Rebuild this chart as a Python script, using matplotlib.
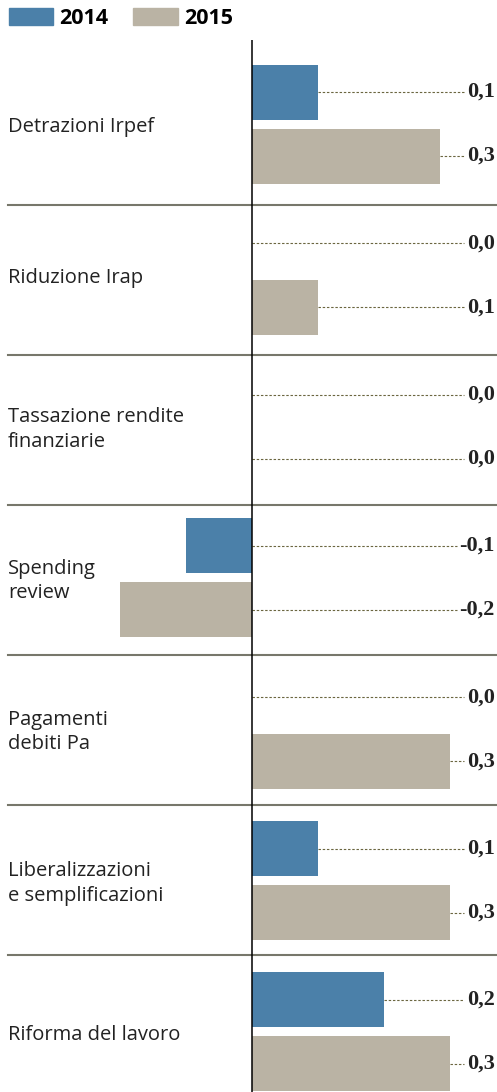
import numpy as np
import matplotlib
matplotlib.use("Agg")
from matplotlib import pyplot as plt
from matplotlib.patches import Patch

categories = ["Detrazioni Irpef", "Riduzione Irap", "Tassazione rendite\nfinanziarie",
              "Spending\nreview", "Pagamenti\ndebiti Pa",
              "Liberalizzazioni\ne semplificazioni", "Riforma del lavoro"]
v2014 = [0.10, 0.00, 0.00, -0.10, 0.00, 0.10, 0.20]
v2015 = [0.285, 0.10, 0.00, -0.20, 0.30, 0.30, 0.30]
years = ["2014", "2015"]
colors = ["#4b80a9", "#bab3a4"]

W, H = 497, 1092
fig = plt.figure(figsize=(W / 100, H / 100), dpi=100)
ax = fig.add_axes([0, 0, 1, 1])
ax.axis("off")

# x: zero at 252px, 660 px per unit ; y: group pitch 151.3px, first centre at 124px
pitch, y0 = 151.3, 124
ax.set_xlim(-252 / 660, (W - 252) / 660)
ax.set_ylim((H - y0) / pitch, -y0 / pitch)

y = np.arange(len(categories))
off = 32 / pitch
bh = 55 / pitch
ax.barh(y - off, v2014, height=bh, color=colors[0], zorder=2)
ax.barh(y + off, v2015, height=bh, color=colors[1], zorder=2)

# zero line and separators
ax.vlines(0, (40 - y0) / pitch, (H - y0) / pitch, color="black", lw=1.1, zorder=3)
for k in range(len(categories) - 1):
    ax.axhline((205 + 150 * k - y0) / pitch, xmin=8 / W, xmax=1,
               color="#77776b", lw=1.5, zorder=1)

# category labels
for i, c in enumerate(categories):
    ax.text(8 / W, i + 3 / pitch, c, transform=ax.get_yaxis_transform(),
            ha="left", va="center", fontsize=14.5, family="Open Sans",
            color="#222222", linespacing=1.3)

# value labels with dotted leaders
fig.canvas.draw()
r = fig.canvas.get_renderer()
inv = ax.transData.inverted()
for vals, sh in ((v2014, -off), (v2015, off)):
    for i, v in enumerate(vals):
        lab = f"{v:.1f}".replace(".", ",")
        t = ax.text(495 / W, i + sh, lab, transform=ax.get_yaxis_transform(),
                    ha="right", va="center", fontsize=16, family="Liberation Serif",
                    fontweight="bold", color="#222222")
        bb = t.get_window_extent(renderer=r)
        xend = inv.transform((bb.x0 - 3, 0))[0]
        ax.plot([max(v, 0), xend], [i + sh, i + sh], color="#6b6640", lw=0.8,
                linestyle=(0, (2.2, 1.6)), zorder=1)

handles = [Patch(color=colors[0]), Patch(color=colors[1])]
leg = fig.legend(handles, years, loc="upper left", bbox_to_anchor=(9 / W, 1 - 8 / H),
                 ncol=2, frameon=False, handlelength=2.05, handleheight=0.84,
                 handletextpad=0.3, columnspacing=1.15, borderaxespad=0, borderpad=0,
                 prop={"family": "Open Sans", "weight": "bold", "size": 15.5})

fig.savefig("out.png", dpi=100)
